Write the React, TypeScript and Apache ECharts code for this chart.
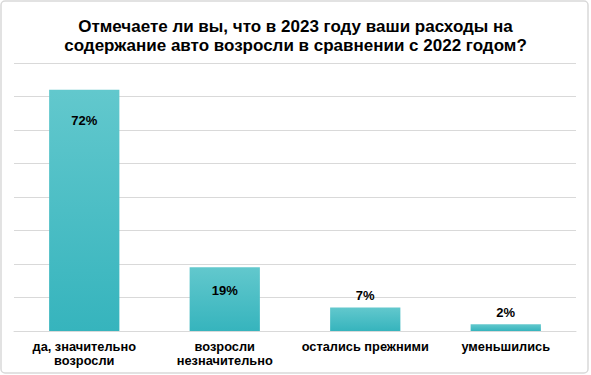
import React, { useEffect, useRef } from "react";
import * as echarts from "echarts";

const titleLines = [
  "Отмечаете ли вы, что в 2023 году ваши расходы на",
  "содержание авто возросли в сравнении с 2022 годом?",
];
const categories = [
  "да, значительно\nвозросли",
  "возросли\nнезначительно",
  "остались прежними",
  "уменьшились",
];
const values = [72, 19, 7, 2];
const labelInside = [true, true, false, false];

const FONT = "'Liberation Sans', Arial, sans-serif";

export default function App() {
  const ref = useRef<HTMLDivElement>(null);
  useEffect(() => {
    if (!ref.current) return;
    const chart = echarts.init(ref.current, null, { renderer: "svg" });
    const barColor = new echarts.graphic.LinearGradient(0, 0, 0, 1, [
      { offset: 0, color: "#62c8cd" },
      { offset: 1, color: "#36b4bd" },
    ]);
    chart.setOption({
      animation: false,
      backgroundColor: "#ffffff",
      title: {
        text: titleLines.join("\n"),
        left: "center",
        top: 12,
        textStyle: {
          fontFamily: FONT,
          fontSize: 17,
          lineHeight: 19,
          fontWeight: "bold",
          color: "#000000",
        },
      },
      graphic: [
        {
          type: "rect",
          shape: { x: 1, y: 1, width: 587, height: 372, r: 4 },
          style: { fill: "none", stroke: "#d9d9d9", lineWidth: 1.5 },
          silent: true,
        },
      ],
      grid: { left: 14, right: 15, top: 63, bottom: 44, containLabel: false },
      xAxis: {
        type: "category",
        data: categories,
        axisLine: { show: true, lineStyle: { color: "#d9d9d9", width: 1 } },
        axisTick: { show: false },
        axisLabel: {
          interval: 0,
          margin: 9,
          fontFamily: FONT,
          fontSize: 12.8,
          lineHeight: 13.5,
          fontWeight: "bold",
          color: "#000000",
        },
      },
      yAxis: {
        type: "value",
        min: 0,
        max: 80,
        interval: 10,
        axisLabel: { show: false },
        axisLine: { show: false },
        axisTick: { show: false },
        splitLine: { lineStyle: { color: "#d9d9d9", width: 1 } },
      },
      series: [
        {
          type: "bar",
          barWidth: "50%",
          data: values.map((v, i) => ({
            value: v,
            label: labelInside[i]
              ? { position: "insideTop", distance: i === 0 ? 24 : 17 }
              : { position: "top", distance: i === 2 ? 6 : 5 },
          })),
          itemStyle: { color: barColor },
          label: {
            show: true,
            formatter: "{c}%",
            fontFamily: FONT,
            fontSize: 13,
            fontWeight: "bold",
            color: "#000000",
          },
        },
      ],
    });
    return () => chart.dispose();
  }, []);
  return (
    <div
      ref={ref}
      style={{ position: "absolute", left: 0, top: 0, width: 591, height: 375 }}
    />
  );
}
